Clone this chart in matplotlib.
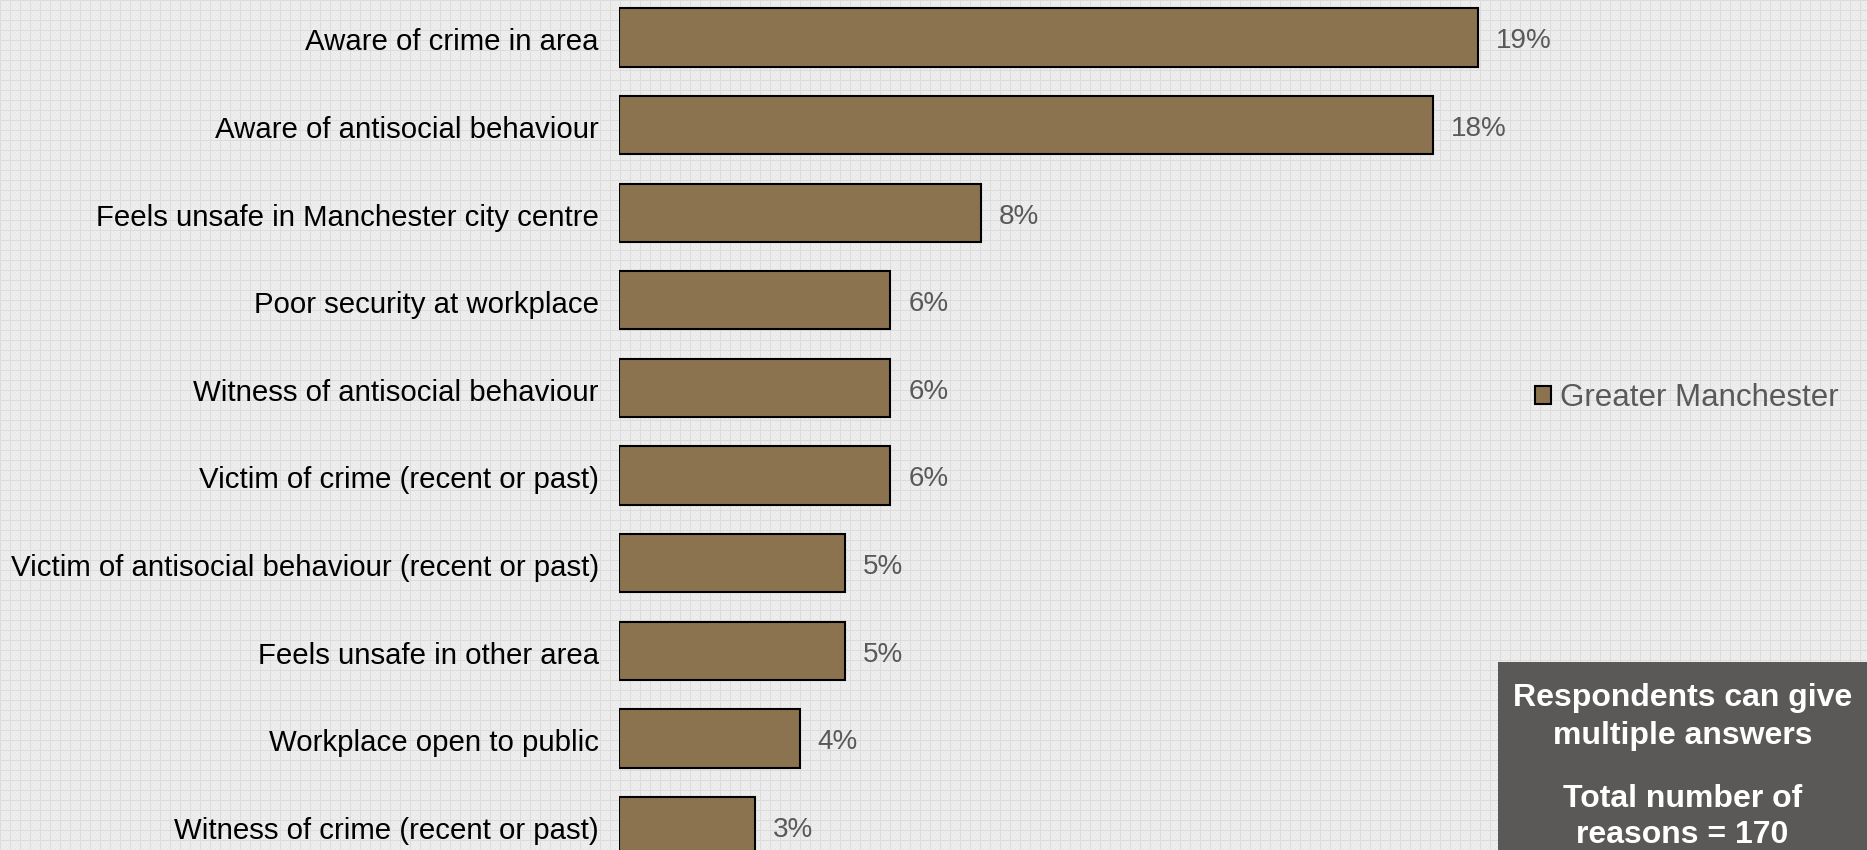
import numpy as np
import matplotlib
matplotlib.use("Agg")
import matplotlib.pyplot as plt
import matplotlib.transforms as mtrans
from matplotlib.patches import Rectangle, Patch

plt.rcParams['font.family'] = ['Liberation Sans', 'DejaVu Sans']

# data (% of reasons given)
reasons = [
    'Aware of crime in area',
    'Aware of antisocial behaviour',
    'Feels unsafe in Manchester city centre',
    'Poor security at workplace',
    'Witness of antisocial behaviour',
    'Victim of crime (recent or past)',
    'Victim of antisocial behaviour (recent or past)',
    'Feels unsafe in other area',
    'Workplace open to public',
    'Witness of crime (recent or past)',
]
pct = [19, 18, 8, 6, 6, 6, 5, 5, 4, 3]
pct_labels = ['19%', '18%', '8%', '6%', '6%', '6%', '5%', '5%', '4%', '3%']
series_name = 'Greater Manchester'
note_lines = ['Respondents can give', 'multiple answers', 'Total number of', 'reasons = 170']

W, H = 1867, 850
bar_col = '#8b7350'
grey_txt = '#595959'

fig = plt.figure(figsize=(W / 100, H / 100), dpi=100)
fig.patch.set_facecolor('#e9e9e9')

# light grid paper background
bg = np.full((H, W), 0.915)
yy, xx = np.mgrid[0:H, 0:W]
bg[((xx // 2) + (yy // 2)) % 2 == 0] = 0.93
bg[(xx % 10) == 0] = 0.86
bg[(yy % 10) == 0] = 0.86
fig.figimage(bg, cmap='gray', vmin=0, vmax=1, zorder=-5)

left_px = 619
px_per_pct = 45.2
pitch = 87.6
first_c = 37.5

ax = fig.add_axes([left_px / W, 0, 1 - left_px / W, 1])
ax.patch.set_visible(False)
ax.set_zorder(2)
ypos = np.arange(len(reasons))
ax.barh(ypos, pct, height=58.4 / pitch, color=bar_col, edgecolor='black', linewidth=1.5, zorder=3)
ax.set_xlim(0, (W - left_px) / px_per_pct)
ax.set_ylim((H - first_c) / pitch, -first_c / pitch)

down = mtrans.ScaledTranslation(0, -2 / 100, fig.dpi_scale_trans)
for y, v, lab in zip(ypos, pct, pct_labels):
    ax.text(v + 18 / px_per_pct, y, lab, va='center', ha='left', fontsize=20, color=grey_txt,
            transform=ax.transData + mtrans.ScaledTranslation(0, -4 / 100, fig.dpi_scale_trans))

ax.set_yticks(ypos)
ax.set_yticklabels(reasons, fontsize=21.2, color='black')
ax.tick_params(axis='y', length=0, pad=14.5)
for lbl in ax.get_yticklabels():
    lbl.set_transform(lbl.get_transform() + down)
ax.set_xticks([])
for s in ax.spines.values():
    s.set_visible(False)

# legend
fig.legend(handles=[Patch(facecolor=bar_col, edgecolor='black', linewidth=1.5, label=series_name)],
           loc='center left', bbox_to_anchor=(1535 / W, 1 - 398 / H), frameon=False,
           fontsize=22.5, labelcolor=grey_txt, handlelength=0.5, handleheight=0.5,
           handletextpad=0.3, borderaxespad=0, borderpad=0)

# note box
bx0, by0 = 1498, 662
fig.patches.append(Rectangle((bx0 / W, 0), 1 - bx0 / W, 1 - by0 / H, transform=fig.transFigure,
                             facecolor='#5b5958', edgecolor='none', zorder=5))
cx = (bx0 + W) / 2 / W
for txt, base in zip(note_lines, [706, 744, 807, 843]):
    fig.text(cx, 1 - base / H, txt, ha='center', va='baseline', fontsize=23, fontweight='bold',
             color='white', zorder=6)

fig.savefig('out.png', dpi=100, facecolor=fig.get_facecolor())
